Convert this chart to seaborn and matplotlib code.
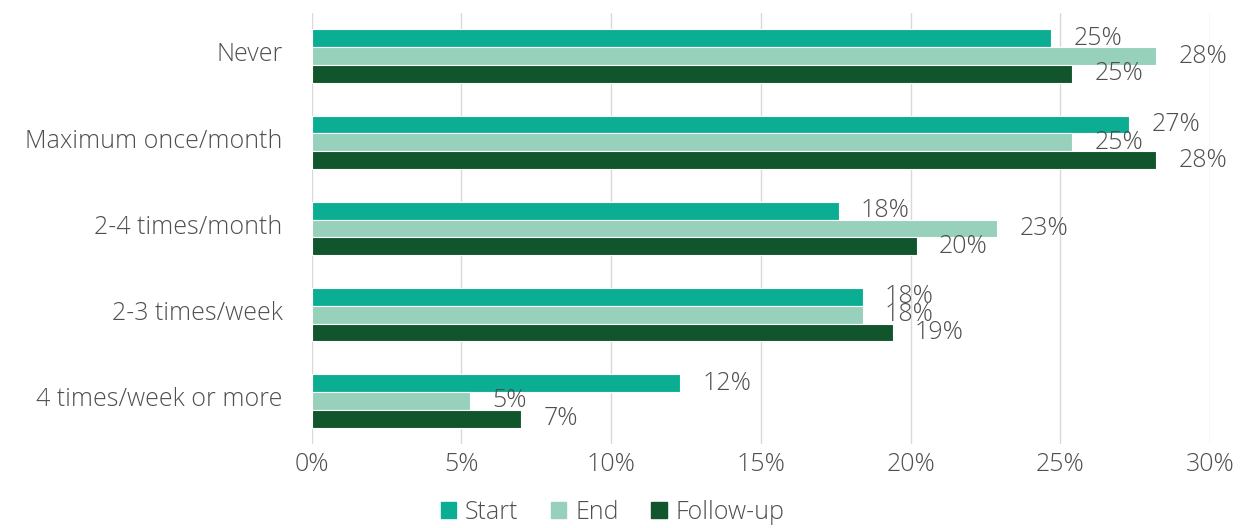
import matplotlib
matplotlib.use("Agg")
import matplotlib.pyplot as plt
import matplotlib.transforms as mtransforms
import seaborn as sns
import pandas as pd

# frequency categories (top to bottom)
categories = ["Never", "Maximum once/month", "2-4 times/month",
              "2-3 times/week", "4 times/week or more"]
series = ["Start", "End", "Follow-up"]

# shares in percent
start = [24.7, 27.3, 17.6, 18.4, 12.3]
end = [28.2, 25.4, 22.9, 18.4, 5.3]
follow_up = [25.4, 28.2, 20.2, 19.4, 7.0]

colors = ["#0BAE93", "#97D1BC", "#10552C"]
text_color = "#4f4f4f"
fs = 18

df = pd.DataFrame({
    "category": categories * 3,
    "series": ["Start"] * 5 + ["End"] * 5 + ["Follow-up"] * 5,
    "value": start + end + follow_up,
})

sns.set_theme(style="white")
plt.rcParams["font.family"] = ["Open Sans", "DejaVu Sans"]
plt.rcParams["font.weight"] = "light"

fig = plt.figure(figsize=(12.45, 5.28), dpi=100)
ax = fig.add_axes([0.2504, 0.159, 0.7215, 0.8163])

sns.barplot(data=df, x="value", y="category", hue="series", order=categories,
            hue_order=series, palette=colors, saturation=1, orient="h",
            width=0.62, edgecolor="white", linewidth=0.8, legend=False, ax=ax)

for container in ax.containers:
    ax.bar_label(container, labels=[f"{v:.0f}%" for v in container.datavalues],
                 padding=16, fontsize=fs, color=text_color)

ax.set_xlim(0, 30)
ax.set_xticks(range(0, 31, 5))
ax.set_xticklabels([f"{t}%" for t in range(0, 31, 5)])
ax.set_ylim(4.5, -0.5)
ax.set_xlabel("")
ax.set_ylabel("")
ax.grid(axis="x", color="#d9d9d9", linewidth=1)
ax.set_axisbelow(True)
for s in ax.spines.values():
    s.set_visible(False)
ax.tick_params(axis="y", length=0, pad=21, labelsize=fs, labelcolor=text_color)
ax.tick_params(axis="x", length=0, pad=6, labelsize=fs, labelcolor=text_color)

# category labels sit a little above the group centre
shift = mtransforms.ScaledTranslation(0, 3 / 72, fig.dpi_scale_trans)
for lbl in ax.get_yticklabels():
    lbl.set_transform(lbl.get_transform() + shift)

handles = [plt.Rectangle((0, 0), 1, 1, color=c) for c in colors]
fig.legend(handles, series, loc="center", bbox_to_anchor=(0.492, 0.03), ncol=3,
           frameon=False, fontsize=fs, labelcolor=text_color,
           handlelength=0.62, handleheight=0.62, handletextpad=0.35,
           columnspacing=1.3)

fig.savefig("out.png", dpi=100)
